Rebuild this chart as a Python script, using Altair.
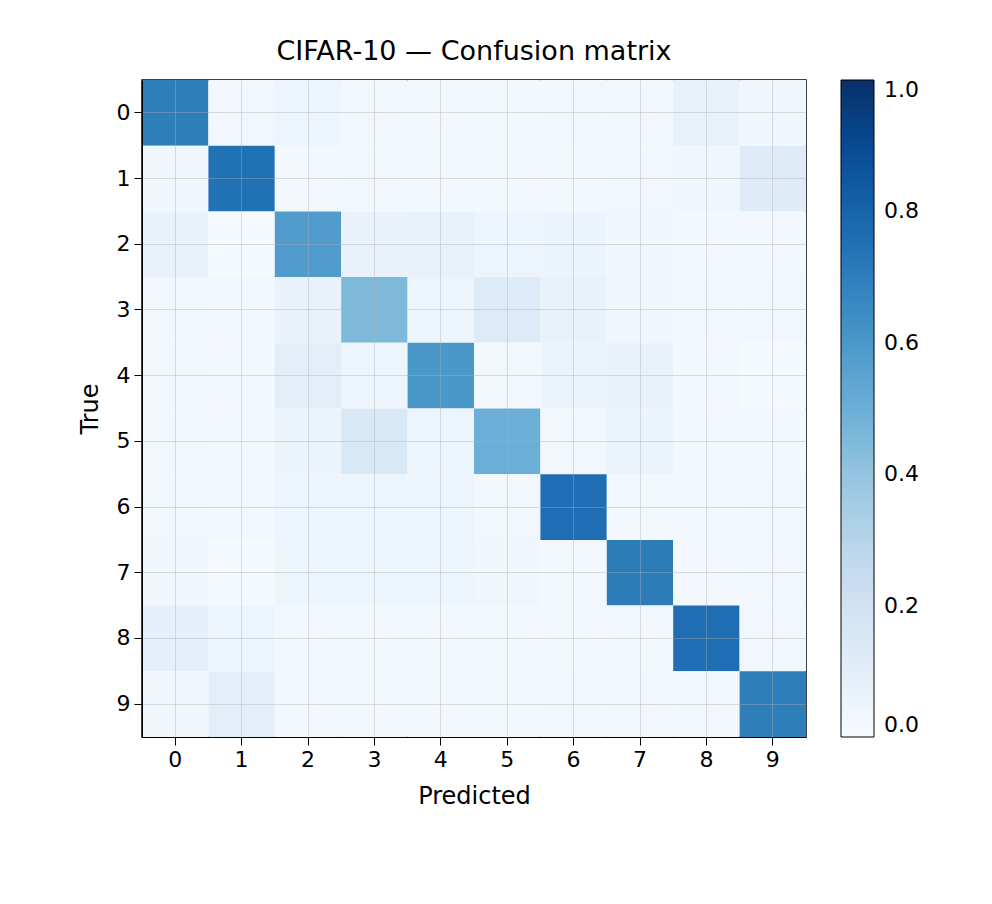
import altair as alt
import pandas as pd

classes = [str(i) for i in range(10)]
# rows = true class, cols = predicted class (normalized)
matrix = [
    [0.70, 0.03, 0.05, 0.03, 0.02, 0.02, 0.03, 0.03, 0.08, 0.04],
    [0.04, 0.75, 0.02, 0.03, 0.02, 0.02, 0.02, 0.03, 0.04, 0.12],
    [0.07, 0.01, 0.58, 0.07, 0.08, 0.05, 0.06, 0.04, 0.02, 0.02],
    [0.03, 0.02, 0.07, 0.45, 0.05, 0.13, 0.07, 0.04, 0.03, 0.03],
    [0.03, 0.02, 0.10, 0.05, 0.60, 0.03, 0.06, 0.07, 0.02, 0.01],
    [0.03, 0.02, 0.06, 0.15, 0.05, 0.50, 0.03, 0.06, 0.02, 0.02],
    [0.03, 0.02, 0.05, 0.05, 0.05, 0.03, 0.76, 0.02, 0.02, 0.03],
    [0.04, 0.01, 0.05, 0.05, 0.05, 0.04, 0.02, 0.71, 0.02, 0.03],
    [0.09, 0.05, 0.02, 0.02, 0.02, 0.02, 0.02, 0.02, 0.76, 0.03],
    [0.04, 0.10, 0.02, 0.02, 0.02, 0.02, 0.03, 0.03, 0.03, 0.70],
]

blues = ["#f7fbff", "#deebf7", "#c6dbef", "#9ecae1", "#6baed6",
         "#4292c6", "#2171b5", "#08519c", "#08306b"]
stops = [i / 8 for i in range(9)]

rows = []
for i, t in enumerate(classes):
    for j, p in enumerate(classes):
        rows.append({"true": t, "pred": p, "value": matrix[i][j]})
df = pd.DataFrame(rows)

font = "DejaVu Sans"
axis_style = dict(grid=True, gridColor="#b0b0b0", gridOpacity=0.4, zindex=1,
                  tickSize=8, tickColor="black", domainColor="black",
                  labelPadding=4, bandPosition=0.5, tickBand="center")
chart = (
    alt.Chart(df)
    .mark_rect()
    .encode(
        x=alt.X("pred:O", title="Predicted", sort=classes,
                axis=alt.Axis(labelAngle=0, titlePadding=14, **axis_style)),
        y=alt.Y("true:O", title="True", sort=classes,
                axis=alt.Axis(titlePadding=14, **axis_style)),
        color=alt.Color(
            "value:Q",
            scale=alt.Scale(domain=stops, range=blues, interpolate="rgb"),
            legend=alt.Legend(title=None, gradientLength=657, gradientThickness=33,
                              values=[0, 0.2, 0.4, 0.6, 0.8, 1.0], format=".1f",
                              labelFontSize=22, labelFont=font, offset=35,
                              labelOffset=10,
                              gradientStrokeColor="black", gradientStrokeWidth=1),
        ),
    )
    .properties(
        width=664, height=657,
        padding={"left": 70, "top": 30, "right": 5, "bottom": 5},
        title=alt.Title("CIFAR-10 — Confusion matrix", fontSize=27,
                        fontWeight="normal", font=font, offset=14),
    )
    .configure_view(stroke="black", strokeWidth=1.5)
    .configure_axis(labelFontSize=22, titleFontSize=24, labelFont=font,
                    titleFont=font, titleFontWeight="normal", labelColor="black",
                    titleColor="black")
    .configure_scale(bandPaddingInner=0, bandPaddingOuter=0)
)

chart.save("out.html", embed_options={"renderer": "svg", "actions": False})
